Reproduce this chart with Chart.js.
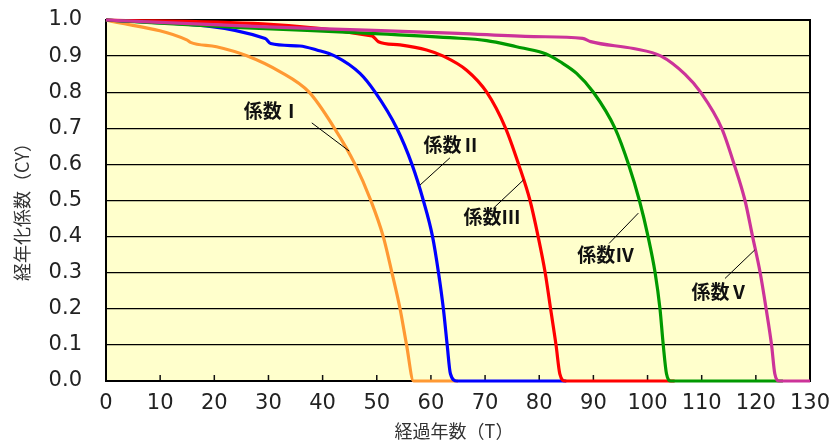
<!DOCTYPE html>
<html>
<head>
<meta charset="utf-8">
<script src="https://cdn.jsdelivr.net/npm/chart.js@4.4.1/dist/chart.umd.min.js"></script>
<style>
  html, body { margin: 0; padding: 0; background: #fff; }
</style>
</head>
<body>
<canvas id="cy-chart" width="832" height="441"></canvas>
<script>
// 経年化係数（CY）曲線 - 係数Ⅰ〜Ⅴ

const xTickValues = [0, 10, 20, 30, 40, 50, 60, 70, 80, 90, 100, 110, 120, 130];
const yTickValues = [0, 0.1, 0.2, 0.3, 0.4, 0.5, 0.6, 0.7, 0.8, 0.9, 1.0];

const seriesNames = ['係数Ⅰ', '係数Ⅱ', '係数Ⅲ', '係数Ⅳ', '係数Ⅴ'];

const yearsI = [0, 14.9, 15.6, 20.4, 26, 32.1, 37.5, 42.2, 46, 48.9, 51.2, 52.8, 54.3, 55.5, 56.8, 65];
const cyI    = [1.0, 0.945, 0.938, 0.926, 0.901, 0.857, 0.80, 0.70, 0.60, 0.50, 0.40, 0.30, 0.20, 0.10, 0.0, 0.0];

const yearsII = [0, 29.4, 30.4, 35.8, 38.9, 42.3, 46.9, 49.7, 53.7, 56.5, 58.6, 60.3, 61.4, 62.3, 63.0, 63.6, 64.8, 85];
const cyII    = [1.0, 0.949, 0.935, 0.928, 0.917, 0.90, 0.852, 0.80, 0.70, 0.60, 0.50, 0.40, 0.30, 0.20, 0.10, 0.02, 0.0, 0.0];

const yearsIII = [0, 49.1, 50.3, 54.3, 59.2, 62.3, 66.6, 70.3, 73.8, 76.2, 78.3, 79.8, 81.1, 82.1, 83.1, 83.8, 84.8, 105];
const cyIII    = [1.0, 0.956, 0.940, 0.931, 0.917, 0.90, 0.861, 0.80, 0.70, 0.60, 0.50, 0.40, 0.30, 0.20, 0.10, 0.02, 0.0, 0.0];

const yearsIV = [0, 25, 49, 63.5, 70.3, 75.8, 80.5, 82.1, 83.8, 86.9, 90, 94, 96.5, 98.5, 100.1, 101.4, 102.3, 102.9, 103.5, 104.3, 125];
const cyIV    = [1.0, 0.979, 0.963, 0.951, 0.943, 0.926, 0.91, 0.90, 0.885, 0.852, 0.80, 0.70, 0.60, 0.50, 0.40, 0.30, 0.20, 0.10, 0.02, 0.0, 0.0];

const yearsV = [0, 29.7, 48, 65, 79, 88, 89.5, 97.4, 102.5, 106.9, 109.8, 113.7, 116, 118, 119.4, 120.8, 121.9, 122.9, 123.5, 124.3, 130];
const cyV    = [1.0, 0.981, 0.972, 0.963, 0.954, 0.949, 0.94, 0.921, 0.90, 0.85, 0.80, 0.70, 0.60, 0.50, 0.40, 0.30, 0.20, 0.10, 0.02, 0.0, 0.0];

// ラベルと引き出し線（データ座標）
const labelAt    = [[30.7, 0.748], [63.9, 0.654], [71.3, 0.454], [92.3, 0.349], [113.4, 0.247]];
const leaderFrom = [[38.0, 0.715], [63.5, 0.618], [71.5, 0.478], [92.9, 0.381], [114.3, 0.284]];
const leaderTo   = [[44.9, 0.637], [58.0, 0.543], [77.1, 0.557], [98.3, 0.465], [119.8, 0.363]];

const toPoints = (xs, ys) => xs.map((x, i) => ({ x: x, y: ys[i] }));

const colors = ['#FF9933', '#0000FF', '#FF0000', '#009900', '#CC3399'];
const allSeries = [[yearsI, cyI], [yearsII, cyII], [yearsIII, cyIII], [yearsIV, cyIV], [yearsV, cyV]];

const datasets = allSeries.map((s, i) => ({
    label: seriesNames[i],
    data: toPoints(s[0], s[1]),
    borderColor: colors[i],
    backgroundColor: colors[i],
    borderWidth: 3.2,
    pointRadius: 0,
    cubicInterpolationMode: 'monotone',
    order: 5 - i,
    clip: 4
}));

const PLOT = { left: 106, top: 20, right: 22, bottom: 60 };

const decor = {
    id: 'decor',
    beforeDraw(chart) {
        const { ctx, chartArea: a } = chart;
        ctx.save();
        ctx.fillStyle = '#FFFFCC';
        ctx.fillRect(a.left, a.top, a.right - a.left, a.bottom - a.top);
        ctx.restore();
    },
    beforeDatasetsDraw(chart) {
        const { ctx, chartArea: a, scales: { x } } = chart;
        ctx.save();
        ctx.strokeStyle = '#111';
        ctx.lineWidth = 1.5;
        xTickValues.forEach(v => {
            const px = x.getPixelForValue(v);
            ctx.beginPath();
            ctx.moveTo(px, a.bottom);
            ctx.lineTo(px, a.bottom - 6);
            ctx.stroke();
        });
        ctx.lineWidth = 2;
        ctx.strokeStyle = '#000';
        ctx.strokeRect(a.left, a.top, a.right - a.left, a.bottom - a.top);
        ctx.restore();
    },
    afterDatasetsDraw(chart) {
        const { ctx, chartArea: a, scales: { x, y } } = chart;
        ctx.save();
        // 引き出し線
        ctx.strokeStyle = '#000';
        ctx.lineWidth = 1;
        leaderFrom.forEach((p, i) => {
            ctx.beginPath();
            ctx.moveTo(x.getPixelForValue(p[0]), y.getPixelForValue(p[1]));
            ctx.lineTo(x.getPixelForValue(leaderTo[i][0]), y.getPixelForValue(leaderTo[i][1]));
            ctx.stroke();
        });
        // 係数ラベル
        ctx.fillStyle = '#111';
        ctx.font = 'bold 19px "Noto Sans CJK JP"';
        ctx.textAlign = 'center';
        ctx.textBaseline = 'middle';
        labelAt.forEach((p, i) => {
            ctx.fillText(seriesNames[i], x.getPixelForValue(p[0]), y.getPixelForValue(p[1]));
        });
        // 軸タイトル
        ctx.fillStyle = '#333';
        ctx.font = '18px "Noto Sans CJK JP"';
        ctx.fillText('経過年数（T）', (a.left + a.right) / 2 - 4, 431);
        ctx.translate(22, (a.top + a.bottom) / 2 + 7);
        ctx.rotate(-Math.PI / 2);
        ctx.fillText('経年化係数（CY）', 0, 0);
        ctx.restore();
    }
};

new Chart(document.getElementById('cy-chart').getContext('2d'), {
    type: 'line',
    data: { datasets: datasets },
    options: {
        responsive: false,
        animation: false,
        layout: { padding: { top: PLOT.top, right: PLOT.right, left: 0, bottom: 0 } },
        plugins: {
            legend: { display: false },
            tooltip: { enabled: false }
        },
        scales: {
            x: {
                type: 'linear',
                min: 0,
                max: 130,
                afterBuildTicks: s => { s.ticks = xTickValues.map(v => ({ value: v })); },
                afterFit: s => {
                    s.height = PLOT.bottom;
                    s.paddingLeft = 0;
                    s.paddingRight = 0;
                },
                grid: { display: false, drawTicks: false },
                border: { display: false },
                ticks: {
                    padding: 10,
                    color: '#222',
                    font: { family: 'DejaVu Sans', size: 21 },
                    maxRotation: 0,
                    autoSkip: false
                }
            },
            y: {
                min: 0,
                max: 1,
                afterBuildTicks: s => { s.ticks = yTickValues.map(v => ({ value: v })); },
                afterFit: s => {
                    s.width = PLOT.left;
                    s.paddingTop = 0;
                    s.paddingBottom = 0;
                },
                grid: { color: '#000', lineWidth: 1.3, drawTicks: false },
                border: { display: false },
                ticks: {
                    padding: 24,
                    color: '#222',
                    font: { family: 'DejaVu Sans', size: 21 },
                    callback: v => v.toFixed(1)
                }
            }
        }
    },
    plugins: [decor]
});
</script>
</body>
</html>
